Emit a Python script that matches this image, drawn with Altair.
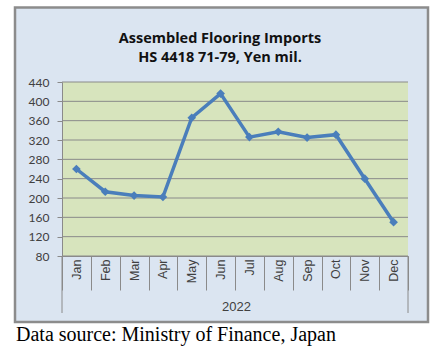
import altair as alt
import pandas as pd

months = ["Jan", "Feb", "Mar", "Apr", "May", "Jun", "Jul", "Aug", "Sep", "Oct", "Nov", "Dec"]
values = [260, 213, 205, 202, 366, 416, 326, 337, 325, 331, 240, 150]
y_ticks = [80, 120, 160, 200, 240, 280, 320, 360, 400, 440]
title_lines = ["Assembled Flooring Imports", "HS 4418 71-79, Yen mil."]
year_label = "2022"
source_note = "Data source: Ministry of Finance, Japan"

df = pd.DataFrame({"month": months, "value": values})
grid_df = pd.DataFrame({"value": y_ticks})

W, H = 346, 174
LABEL_FONT = "Lato"

x_enc = alt.X(
    "month:N",
    sort=months,
    bandPosition=0.5,
    scale=alt.Scale(type="band", paddingInner=0, paddingOuter=0),
    axis=alt.Axis(
        title=year_label,
        titleX=W / 2 + 1,
        titleY=50,
        titleBaseline="middle",
        titleAlign="center",
        titleFont="Liberation Sans",
        titleFontWeight="normal",
        titleFontSize=13,
        titleColor="#404040",
        labelAngle=270,
        labelFont="Liberation Sans",
        labelFontSize=12.5,
        labelColor="#404040",
        labelPadding=-31,
        tickBand="extent",
        tickSize=34,
        tickColor="#8a8a8a",
        domainColor="#8a8a8a",
        grid=False,
        zindex=1,
    ),
)
y_scale = alt.Scale(domain=[80, 440], nice=False, zero=False)
y_enc = alt.Y(
    "value:Q",
    scale=y_scale,
    axis=alt.Axis(
        title=None,
        values=y_ticks,
        labelFont=LABEL_FONT,
        labelFontSize=12,
        labelColor="#404040",
        labelPadding=8,
        tickSize=5,
        tickColor="#8a8a8a",
        domainColor="#8a8a8a",
        grid=False,
        zindex=1,
    ),
)

one = alt.Data(values=[{"k": 1}])

frame = alt.Chart(one).mark_rect(fill="#dbe5f1", stroke="#8c8c8c", strokeWidth=2.5).encode(
    x=alt.value(-47), x2=alt.value(366), y=alt.value(-74.5), y2=alt.value(240)
)
plot_bg = alt.Chart(one).mark_rect(fill="#d7e4bd").encode(
    x=alt.value(0), x2=alt.value(W), y=alt.value(0), y2=alt.value(H)
)
grid = alt.Chart(grid_df).mark_rule(color="#8a8a8a", strokeWidth=1).encode(
    y=y_enc, x=alt.value(0), x2=alt.value(W)
)
outer_ticks = alt.Chart(alt.Data(values=[{"p": 0}, {"p": W}])).mark_rule(
    color="#8a8a8a", strokeWidth=1
).encode(x=alt.X("p:Q", scale=None), y=alt.value(H), y2=alt.value(H + 57))

line = alt.Chart(df).mark_line(color="#4a7ebb", strokeWidth=3.5).encode(x=x_enc, y=y_enc)
points = alt.Chart(df).mark_point(
    shape="diamond", filled=True, color="#4a7ebb", size=75, opacity=1
).encode(x=x_enc, y=y_enc)

title1 = alt.Chart(one).mark_text(
    text=title_lines[0], font="Open Sans", fontSize=14.5, fontWeight="bold", color="#111111",
    align="center", baseline="alphabetic"
).encode(x=alt.value(158), y=alt.value(-39.3))
title2 = alt.Chart(one).mark_text(
    text=title_lines[1], font="Open Sans", fontSize=14.5, fontWeight="bold", color="#111111",
    align="center", baseline="alphabetic"
).encode(x=alt.value(158), y=alt.value(-20.3))
caption = alt.Chart(one).mark_text(
    text=source_note, font="Liberation Serif", fontSize=20, color="#000000", align="left", baseline="alphabetic"
).encode(x=alt.value(-46), y=alt.value(258.7))

chart = alt.layer(frame, plot_bg, grid, outer_ticks, line, points, title1, title2, caption).properties(
    width=W,
    height=H,
    padding={"left": 62, "top": 82, "right": 37, "bottom": 95},
    autosize=alt.AutoSizeParams(type="none"),
    background="#ffffff",
).configure_view(stroke=None)

chart.save("out.html", embed_options={"renderer": "svg", "actions": False})
